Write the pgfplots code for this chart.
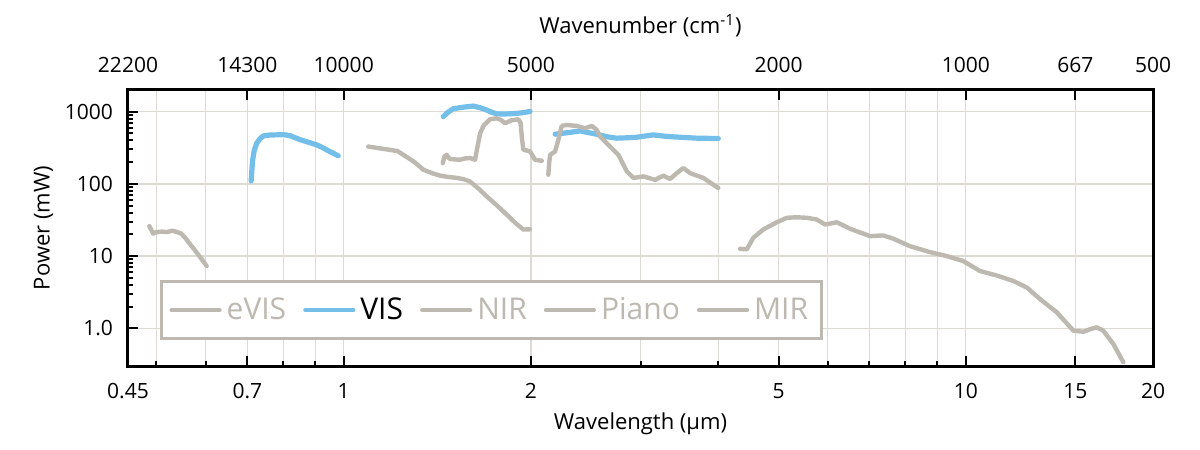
\documentclass[border=0pt]{standalone}
\usepackage{fontspec}
\setmainfont{Open Sans}
\usepackage{pgfplots}
\pgfplotsset{compat=1.18}
\definecolor{lgray}{RGB}{189,184,176}
\definecolor{vblue}{RGB}{116,190,234}
\definecolor{gridc}{RGB}{221,218,212}
\begin{document}
\begin{tikzpicture}
\begin{axis}[
  scale only axis, width=512.5pt, height=138pt,
  xmode=log, ymode=log,
  xmin=0.45, xmax=20, ymin=0.3, ymax=2000,
  axis line style={line width=1.5pt, black},
  xtick={0.45,0.7,1,2,5,10,15,20},
  xticklabels={0.45,0.7,1,2,5,10,15,20},
  minor xtick={0.5,0.6,0.8,0.9,3,4,6,7,8,9},
  ytick={1,10,100,1000},
  yticklabels={1.0,10,100,1000},
  minor ytick={},
  xtick pos=bottom, ytick pos=left,
  tick align=inside,
  major tick length=5pt, minor tick length=2.5pt,
  every tick/.style={black, line width=1pt},
  xmajorgrids, xminorgrids, ymajorgrids,
  grid style={gridc, line width=0.7pt},
  major grid style={gridc, line width=0.7pt},
  minor grid style={gridc, line width=0.7pt},
  tick label style={font=\fontsize{10.5}{12}\selectfont},
  xticklabel style={yshift=-5pt},
  yticklabel style={xshift=-4pt},
  label style={font=\fontsize{11}{13}\selectfont},
  xlabel={Wavelength (µm)},
  ylabel={Power (mW)},
  xlabel style={yshift=0pt},
  ylabel style={yshift=-1pt},
  legend columns=5,
  legend style={at={(0.0312,0.094)}, anchor=south west, draw=lgray, line width=1.5pt,
    font=\fontsize{15}{17}\selectfont, inner xsep=4pt, inner ysep=6pt,
    nodes={inner xsep=2.5pt},
    /tikz/every odd column/.append style={column sep=0pt},
    /tikz/every even column/.append style={column sep=6pt}},
  legend image code/.code={\draw[#1, line width=2.1pt] (0pt,0pt) -- (24pt,0pt);},
  every axis plot/.append style={line width=2.2pt, line join=round, line cap=round},
]
\addplot[lgray] coordinates {(0.487,26) (0.490,23.5) (0.494,20.5) (0.500,21.5) (0.510,21.8) (0.520,21.5) (0.530,22.5) (0.540,21.5) (0.548,20.5) (0.556,18) (0.565,15) (0.575,12.4) (0.585,10.2) (0.595,8.4) (0.602,7.3)};
\addlegendentry{\textcolor{lgray}{eVIS}}
\addplot[vblue, line width=2.6pt] coordinates {(0.710,110) (0.712,160) (0.714,216) (0.718,290) (0.7247,366) (0.733,420) (0.7426,462) (0.76,475) (0.78,478) (0.800,482) (0.82,465) (0.851,410) (0.88,375) (0.905,347) (0.925,318) (0.939,296) (0.96,268) (0.980,245)};
\addlegendentry{\textcolor{black}{VIS}}
\addplot[vblue, line width=2.6pt, forget plot] coordinates {(1.446,853) (1.47,980) (1.500,1100) (1.55,1150) (1.616,1198) (1.66,1130) (1.698,1055) (1.73,980) (1.762,935) (1.80,930) (1.851,935) (1.90,950) (1.95,975) (1.993,1010)};
\addplot[vblue, line width=2.6pt, forget plot] coordinates {(2.187,488) (2.255,504) (2.32,520) (2.399,542) (2.47,515) (2.551,488) (2.65,450) (2.747,430) (2.85,435) (2.958,443) (3.05,460) (3.146,477) (3.3,455) (3.473,443) (3.7,430) (4.001,425)};
\addplot[lgray] coordinates {(1.095,329) (1.14,312) (1.187,296) (1.22,285) (1.247,253) (1.30,200) (1.343,157) (1.39,140) (1.429,130) (1.47,125) (1.520,121) (1.56,116) (1.596,108) (1.65,85) (1.698,67) (1.76,51) (1.828,37.6) (1.89,28.5) (1.945,23.3) (1.993,23.5)};
\addlegendentry{\textcolor{lgray}{NIR}}
\addplot[lgray] coordinates {(1.443,194) (1.452,240) (1.464,253) (1.477,225) (1.491,220) (1.538,216) (1.566,225) (1.596,228) (1.626,216) (1.64,320) (1.657,504) (1.68,650) (1.719,786) (1.762,811) (1.79,770) (1.817,692) (1.86,760) (1.909,786) (1.925,700) (1.935,420) (1.945,296) (1.97,290) (1.993,281) (2.010,250) (2.030,216) (2.082,209)};
\addlegendentry{\textcolor{lgray}{Piano}}
\addplot[lgray, forget plot] coordinates {(2.133,134) (2.140,200) (2.147,253) (2.187,281) (2.213,407) (2.241,635) (2.283,656) (2.369,635) (2.443,590) (2.505,635) (2.551,560) (2.583,452) (2.648,366) (2.70,310) (2.764,253) (2.852,149) (2.922,121) (3.033,127) (3.166,114) (3.265,130) (3.347,117) (3.431,141) (3.516,166) (3.604,141) (3.785,121) (3.929,97.5) (4.001,87.7)};
\addplot[lgray] coordinates {(4.336,12.6) (4.446,12.4) (4.555,17.9) (4.727,23.4) (4.968,29.4) (5.157,33.9) (5.35,34.5) (5.553,33.9) (5.76,32.1) (5.94,27.4) (6.205,29.4) (6.516,23.9) (7.016,18.9) (7.371,19.3) (7.65,17.4) (8.136,13.7) (8.76,11.35) (9.32,10.0) (9.91,8.53) (10.54,6.21) (11.2,5.4) (11.93,4.52) (12.54,3.66) (13.17,2.53) (14.01,1.66) (14.90,0.924) (15.46,0.895) (15.9,0.98) (16.24,1.03) (16.64,0.925) (17.27,0.605) (17.92,0.339)};
\addlegendentry{\textcolor{lgray}{MIR}}
\end{axis}
\begin{axis}[
  scale only axis, width=512.5pt, height=138pt,
  xmode=log, xmin=0.45, xmax=20, ymin=0, ymax=1,
  axis x line*=top, axis y line=none,
  axis line style={line width=1.5pt, black},
  xtick={0.45,0.7,1,2,5,10,15,20},
  xticklabels={22200,14300,10000,5000,2000,1000,667,500},
  minor xtick={},
  tick align=inside, major tick length=5pt,
  every tick/.style={black, line width=1pt},
  tick label style={font=\fontsize{10.5}{12}\selectfont},
  xticklabel style={yshift=5pt},
  label style={font=\fontsize{11}{13}\selectfont},
  xlabel={Wavenumber (cm\textsuperscript{-1})},
  xlabel style={yshift=3.5pt},
]
\end{axis}
\pgfresetboundingbox
\path[use as bounding box] (-64pt,-42pt) rectangle (536pt,183pt);
\end{tikzpicture}
\end{document}
